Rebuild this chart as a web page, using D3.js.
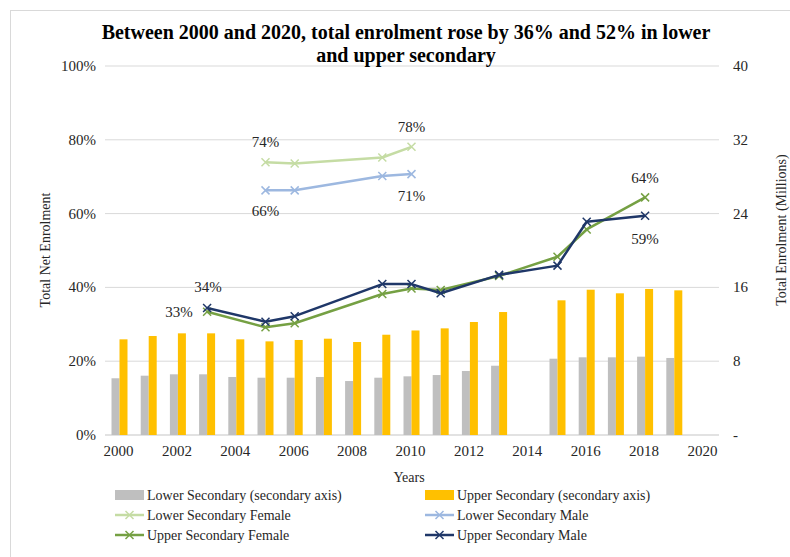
<!DOCTYPE html>
<html>
<head>
<meta charset="utf-8">
<script src="https://cdn.jsdelivr.net/npm/d3@7"></script>
<style>
  body { margin: 0; background: #fff; }
  svg text { font-family: "Liberation Serif", "Times New Roman", serif; fill: #262626; }
</style>
</head>
<body>
<svg id="chart" width="790" height="557"></svg>
<script>
// bar data (secondary axis, millions)
const barYears   = [2000, 2001, 2002, 2003, 2004, 2005, 2006, 2007, 2008, 2009, 2010, 2011, 2012, 2013, 2015, 2016, 2017, 2018, 2019];
const lowerTotal = [6.15, 6.43, 6.58, 6.58, 6.29, 6.21, 6.21, 6.29, 5.85, 6.21, 6.36, 6.5, 6.94, 7.51, 8.27, 8.42, 8.42, 8.49, 8.35];
const upperTotal = [10.37, 10.73, 11.02, 11.02, 10.37, 10.15, 10.3, 10.44, 10.08, 10.87, 11.33, 11.56, 12.25, 13.33, 14.6, 15.75, 15.36, 15.83, 15.68];

// net enrolment rates
const lowerYears  = [2005, 2006, 2009, 2010];
const lowerFemale = [0.739, 0.736, 0.752, 0.781];
const lowerMale   = [0.663, 0.663, 0.702, 0.707];
const upperYears  = [2003, 2005, 2006, 2009, 2010, 2011, 2013, 2015, 2016, 2018];
const upperFemale = [0.334, 0.292, 0.303, 0.382, 0.397, 0.393, 0.431, 0.483, 0.557, 0.644];
const upperMale   = [0.344, 0.307, 0.322, 0.409, 0.409, 0.384, 0.434, 0.459, 0.578, 0.594];

const xTicks = [2000, 2002, 2004, 2006, 2008, 2010, 2012, 2014, 2016, 2018, 2020];
const leftTicks = [0, 0.2, 0.4, 0.6, 0.8, 1];
const rightTicks = [0, 8, 16, 24, 32, 40];

let chart = d3.select("#chart");

// outer frame
chart.append("rect")
    .attr("x", 10.5).attr("y", 10.5)
    .attr("width", 800).attr("height", 600)
    .attr("fill", "none").attr("stroke", "#d9d9d9");

xScale = d3.scaleLinear().domain([2000, 2020]).range([119.5, 703.5]);
yScale = d3.scaleLinear().domain([0, 1]).range([435, 66]);
y2Scale = d3.scaleLinear().domain([0, 40]).range([435, 66]);

// gridlines
chart.selectAll(".grid")
    .data(leftTicks).enter()
        .append("line")
            .attr("x1", 105).attr("x2", 719)
            .attr("y1", d => yScale(d)).attr("y2", d => yScale(d))
            .attr("stroke", "#d9d9d9")
            .attr("stroke-width", d => d == 0 ? 1.5 : 1);

// left axis
chart.selectAll(".ltick")
    .data(leftTicks).enter()
        .append("text")
            .text(d => d3.format(".0%")(d))
            .attr("x", 96)
            .attr("y", d => yScale(d) + 5)
            .attr("font-size", 15)
            .style("text-anchor", "end");

// right axis
chart.selectAll(".rtick")
    .data(rightTicks).enter()
        .append("text")
            .text(d => d == 0 ? "-" : d)
            .attr("x", 733)
            .attr("y", d => y2Scale(d) + 5)
            .attr("font-size", 15)
            .style("text-anchor", "start");

// x axis
chart.selectAll(".xtick")
    .data(xTicks).enter()
        .append("text")
            .text(d => d)
            .attr("x", d => xScale(d) - 1)
            .attr("y", 456)
            .attr("font-size", 15)
            .style("text-anchor", "middle");

// bars
const bw = 8;
chart.selectAll(".lowbar")
    .data(barYears).enter()
        .append("rect")
            .attr("x", d => xScale(d) - bw)
            .attr("y", (d, i) => y2Scale(lowerTotal[i]))
            .attr("width", bw)
            .attr("height", (d, i) => y2Scale(0) - y2Scale(lowerTotal[i]))
            .attr("fill", "#bfbfbf");

chart.selectAll(".upbar")
    .data(barYears).enter()
        .append("rect")
            .attr("x", d => xScale(d))
            .attr("y", (d, i) => y2Scale(upperTotal[i]))
            .attr("width", bw)
            .attr("height", (d, i) => y2Scale(0) - y2Scale(upperTotal[i]))
            .attr("fill", "#ffc000");

// lines
const series = [
    {name: "Lower Secondary Female", years: lowerYears, vals: lowerFemale, color: "#c5dca4", w: 2.5},
    {name: "Lower Secondary Male", years: lowerYears, vals: lowerMale, color: "#9db8e0", w: 2.5},
    {name: "Upper Secondary Female", years: upperYears, vals: upperFemale, color: "#75a043", w: 2.5},
    {name: "Upper Secondary Male", years: upperYears, vals: upperMale, color: "#1f3768", w: 2.5}
];

const line = d3.line().x(d => xScale(d[0])).y(d => yScale(d[1]));
const cross = "M-4,-4L4,4M-4,4L4,-4";

series.forEach(s => {
    let pts = s.years.map((y, i) => [y, s.vals[i]]);
    chart.append("path")
        .datum(pts)
        .attr("d", line)
        .attr("fill", "none")
        .attr("stroke", s.color)
        .attr("stroke-width", s.w)
        .attr("stroke-linejoin", "round");
    chart.selectAll(null)
        .data(pts).enter()
            .append("path")
                .attr("d", cross)
                .attr("transform", d => "translate(" + xScale(d[0]) + "," + yScale(d[1]) + ")")
                .attr("stroke", s.color)
                .attr("stroke-width", 1.5);
});

// data labels: series index, point index, offsets
const pointLabels = [
    [0, 0, 0, -15], [0, 3, 0, -15],
    [1, 0, 0, 26], [1, 3, 0, 27],
    [2, 0, -28, 5], [2, 9, 0, -14],
    [3, 0, 1, -16], [3, 9, 0, 28]
];
pointLabels.forEach(p => {
    let s = series[p[0]];
    chart.append("text")
        .text(Math.round(s.vals[p[1]] * 100) + "%")
        .attr("x", xScale(s.years[p[1]]) + p[2])
        .attr("y", yScale(s.vals[p[1]]) + p[3])
        .attr("font-size", 15)
        .style("text-anchor", "middle");
});

// title
chart.append("text")
    .attr("x", 406).attr("y", 39)
    .attr("font-size", 20).attr("font-weight", "bold")
    .style("text-anchor", "middle")
    .style("fill", "#000")
    .text("Between 2000 and 2020, total enrolment rose by 36% and 52% in lower");
chart.append("text")
    .attr("x", 406).attr("y", 62)
    .attr("font-size", 20).attr("font-weight", "bold")
    .style("text-anchor", "middle")
    .style("fill", "#000")
    .text("and upper secondary");

// axis titles
chart.append("text")
    .text("Total Net Enrolment")
    .attr("transform", "translate(50,250) rotate(-90)")
    .attr("font-size", 14)
    .style("text-anchor", "middle");

chart.append("text")
    .text("Total Enrolment (Millions)")
    .attr("transform", "translate(786,230) rotate(-90)")
    .attr("font-size", 14)
    .style("text-anchor", "middle");

chart.append("text")
    .text("Years")
    .attr("x", 409).attr("y", 482)
    .attr("font-size", 14)
    .style("text-anchor", "middle");

// legend
const legend = [
    {name: "Lower Secondary (secondary axis)", color: "#bfbfbf", bar: true},
    {name: "Upper Secondary (secondary axis)", color: "#ffc000", bar: true}
].concat(series);

legend.forEach((d, i) => {
    let lx = i % 2 == 0 ? 115 : 425;
    let ly = 495 + Math.floor(i / 2) * 20;
    let g = chart.append("g").attr("transform", "translate(" + lx + "," + ly + ")");
    if (d.bar) {
        g.append("rect").attr("x", 0).attr("y", -5).attr("width", 29).attr("height", 10).attr("fill", d.color);
    } else {
        g.append("line").attr("x1", 0).attr("x2", 29).attr("y1", 0).attr("y2", 0)
            .attr("stroke", d.color).attr("stroke-width", 2.5);
        g.append("path").attr("d", cross).attr("transform", "translate(14.5,0)")
            .attr("stroke", d.color).attr("stroke-width", 1.5);
    }
    g.append("text")
        .text(d.name)
        .attr("x", 32).attr("y", 5)
        .attr("font-size", 14);
});
</script>
</body>
</html>
